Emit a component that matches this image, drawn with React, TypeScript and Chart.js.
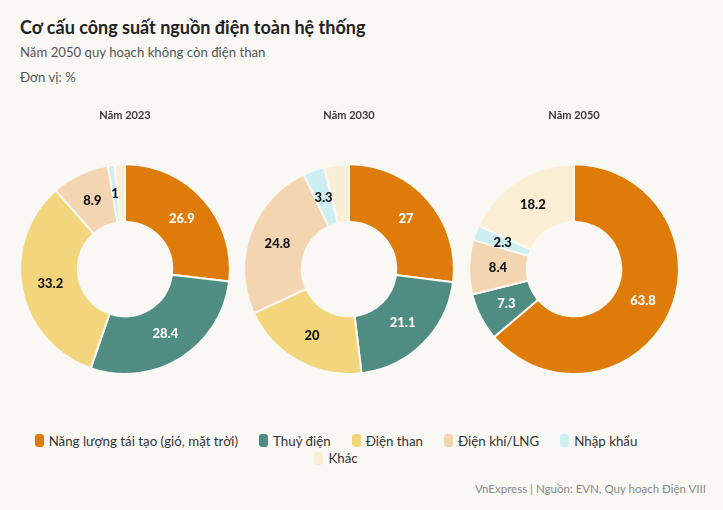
import React, { useEffect, useRef } from "react";
import { Chart, registerables } from "chart.js";

Chart.register(...registerables);

const FONT = "Lato, 'Noto Sans', sans-serif";
const BG = "#FAF8F4";

const categories = [
  "Năng lượng tái tạo (gió, mặt trời)",
  "Thuỷ điện",
  "Điện than",
  "Điện khí/LNG",
  "Nhập khẩu",
  "Khác",
];
const sliceColors = ["#DF7B08", "#4F8C81", "#F3D67C", "#F4D5B1", "#CDEFF2", "#FAEFD5"];
const labelColors = ["#FFFFFF", "#FFFFFF", "#111111", "#111111", "#111111", "#111111"];

const yearTitles = ["Năm 2023", "Năm 2030", "Năm 2050"];
const values2023 = [26.9, 28.4, 33.2, 8.9, 1, 1.6];
const values2030 = [27, 21.1, 20, 24.8, 3.3, 3.8];
const values2050 = [63.8, 7.3, 0, 8.4, 2.3, 18.2];
const showLabel2023 = [true, true, true, true, true, false];
const showLabel2030 = [true, true, true, true, true, false];
const showLabel2050 = [true, true, false, true, true, true];

const seriesValues = [values2023, values2030, values2050];
const seriesShow = [showLabel2023, showLabel2030, showLabel2050];
const centersX = [125, 349, 574];

const labelPlugin = {
  id: "sliceLabels",
  afterDatasetsDraw(chart: any) {
    const ctx = chart.ctx;
    const meta = chart.getDatasetMeta(0);
    const ds = chart.data.datasets[0];
    const show: boolean[] = ds.showLabels;
    ctx.save();
    ctx.font = `900 13px ${FONT}`;
    ctx.textAlign = "center";
    ctx.textBaseline = "middle";
    meta.data.forEach((arc: any, i: number) => {
      const v = ds.data[i];
      if (!v || !show[i]) return;
      const p = arc.tooltipPosition();
      ctx.fillStyle = labelColors[i];
      ctx.fillText(String(v), p.x, p.y);
    });
    ctx.restore();
  },
};

function Donut({ idx }: { idx: number }) {
  const ref = useRef<HTMLCanvasElement>(null);
  useEffect(() => {
    if (!ref.current) return;
    const chart = new Chart(ref.current, {
      type: "doughnut",
      data: {
        labels: categories,
        datasets: [
          {
            data: seriesValues[idx],
            backgroundColor: sliceColors,
            borderColor: BG,
            borderWidth: 2,
            borderRadius: 2,
            showLabels: seriesShow[idx],
          } as any,
        ],
      },
      options: {
        animation: false,
        responsive: false,
        maintainAspectRatio: false,
        cutout: "45%",
        layout: { padding: { left: 6, right: 6, top: 0, bottom: 0 } },
        plugins: {
          legend: { display: false },
          tooltip: { enabled: false },
          title: {
            display: true,
            text: yearTitles[idx],
            color: "#3a3a3a",
            font: { family: FONT, size: 11, weight: "bold" },
            padding: { top: 9, bottom: 41 },
          },
        },
      },
      plugins: [labelPlugin],
    });
    return () => chart.destroy();
  }, [idx]);
  return (
    <canvas
      ref={ref}
      width={224}
      height={275}
      style={{ position: "absolute", left: centersX[idx] - 112, top: 100, width: 224, height: 275 }}
    />
  );
}

export default function App() {
  return (
    <div
      style={{
        position: "fixed",
        left: 0,
        top: 0,
        width: 723,
        height: 510,
        background: BG,
        fontFamily: FONT,
        overflow: "hidden",
      }}
    >
      <div style={{ position: "absolute", left: 20, top: 16, fontSize: 18, fontWeight: 700, color: "#222" }}>
        Cơ cấu công suất nguồn điện toàn hệ thống
      </div>
      <div style={{ position: "absolute", left: 20, top: 44, fontSize: 13.2, color: "#555" }}>
        Năm 2050 quy hoạch không còn điện than
      </div>
      <div style={{ position: "absolute", left: 20, top: 69, fontSize: 13.2, color: "#555" }}>Đơn vị: %</div>
      {[0, 1, 2].map((i) => (
        <Donut key={i} idx={i} />
      ))}
      <div
        style={{
          position: "absolute",
          left: 26,
          top: 432,
          width: 620,
          display: "flex",
          flexWrap: "wrap",
          justifyContent: "center",
          columnGap: 21,
          rowGap: 0,
          fontSize: 13.3,
          color: "#333",
        }}
      >
        {categories.map((c, i) => (
          <div key={c} style={{ display: "flex", alignItems: "center", height: 17.5 }}>
            <span
              style={{
                display: "inline-block",
                width: 9,
                height: 13,
                borderRadius: 3,
                background: sliceColors[i],
                marginRight: 5,
              }}
            />
            <span>{c}</span>
          </div>
        ))}
      </div>
      <div style={{ position: "absolute", right: 17, top: 482, fontSize: 11.5, color: "#888" }}>
        VnExpress | Nguồn: EVN, Quy hoạch Điện VIII
      </div>
    </div>
  );
}
